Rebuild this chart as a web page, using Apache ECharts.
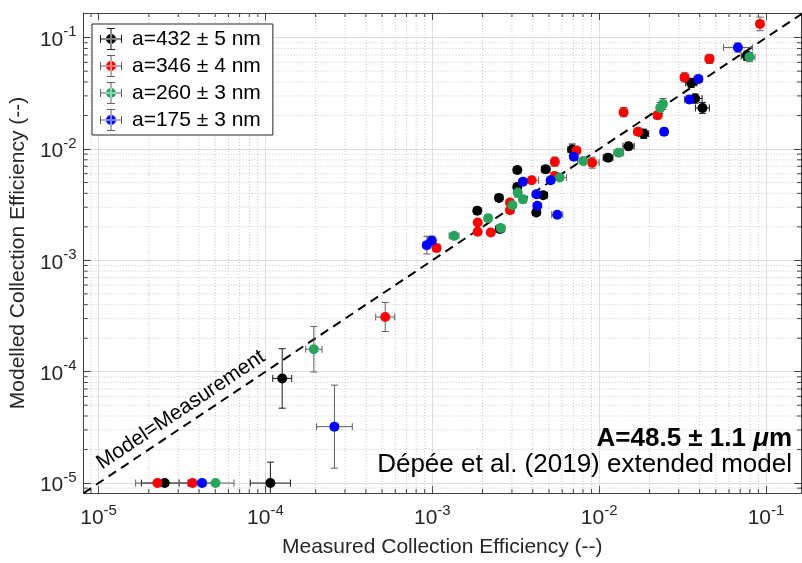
<!DOCTYPE html>
<html><head><meta charset="utf-8">
<script src="https://cdn.jsdelivr.net/npm/echarts@6/dist/echarts.min.js"></script>
<style>html,body{margin:0;padding:0;background:#fff}#c{width:802px;height:563px}</style>
</head><body><div id="c"></div>
<script>
// ---- data: [measured x, modelled y, x error factor, y error factor] ----
const seriesNames = ['a=432 ± 5 nm', 'a=346 ± 4 nm', 'a=260 ± 3 nm', 'a=175 ± 3 nm'];
const seriesColors = ['#000000', '#ff0000', '#27a35e', '#0000ff'];
const errColors = ['#1a1a1a', '#5f5f5f', '#5f5f5f', '#5f5f5f'];

const a432 = [
  [2.49e-5, 1.0e-5, 1.38, 1], [1.07e-4, 1.0e-5, 1.32, 1.54], [1.26e-4, 8.7e-5, 1.14, 1.85],
  [1.86e-3, 2.79e-3, 1.05, 1.07], [2.54e-3, 1.91e-3, 1.06, 1.06], [2.51e-3, 3.64e-3, 1.05, 1.06],
  [3.23e-3, 6.47e-3, 1.05, 1.07], [3.23e-3, 4.56e-3, 1.05, 1.08], [4.62e-3, 3.85e-3, 1.06, 1.06],
  [4.2e-3, 2.69e-3, 1.05, 1.06], [4.78e-3, 6.58e-3, 1.06, 1.08], [6.89e-3, 9.9e-3, 1.06, 1.12],
  [1.13e-2, 8.35e-3, 1.07, 1.08], [1.5e-2, 1.06e-2, 1.08, 1.08], [1.85e-2, 1.37e-2, 1.07, 1.1],
  [3.56e-2, 3.92e-2, 1.08, 1.1], [3.76e-2, 2.84e-2, 1.1, 1.1], [4.16e-2, 2.34e-2, 1.1, 1.12],
  [7.67e-2, 6.87e-2, 1.08, 1.1]
];
const a346 = [
  [2.25e-5, 1.0e-5, 1.35, 1], [3.65e-5, 1.0e-5, 1.2, 1], [5.22e-4, 3.1e-4, 1.14, 1.35],
  [1.06e-3, 1.29e-3, 1.05, 1.08], [1.87e-3, 2.19e-3, 1.04, 1.06], [1.87e-3, 1.81e-3, 1.04, 1.06],
  [2.24e-3, 1.78e-3, 1.05, 1.05], [2.92e-3, 3.31e-3, 1.05, 1.06], [2.92e-3, 2.82e-3, 1.05, 1.06],
  [3.94e-3, 5.24e-3, 1.1, 1.07], [5.42e-3, 7.7e-3, 1.05, 1.1], [5.42e-3, 5.73e-3, 1.05, 1.07],
  [7.31e-3, 9.7e-3, 1.05, 1.07], [9.08e-3, 7.54e-3, 1.1, 1.12], [1.4e-2, 2.14e-2, 1.05, 1.1],
  [1.71e-2, 1.43e-2, 1.06, 1.08], [2.24e-2, 2.01e-2, 1.06, 1.08], [3.25e-2, 4.4e-2, 1.06, 1.1],
  [4.58e-2, 6.45e-2, 1.06, 1.1], [9.2e-2, 0.133, 1.04, 1.15]
];
const a260 = [
  [5.02e-5, 1.0e-5, 1.29, 1], [1.95e-4, 1.59e-4, 1.12, 1.6], [1.35e-3, 1.66e-3, 1.07, 1.05],
  [2.16e-3, 2.39e-3, 1.05, 1.06], [2.57e-3, 1.95e-3, 1.06, 1.05], [3.02e-3, 3.13e-3, 1.05, 1.06],
  [3.25e-3, 4.06e-3, 1.04, 1.1], [3.49e-3, 3.54e-3, 1.05, 1.08], [5.8e-3, 5.54e-3, 1.1, 1.06],
  [8.02e-3, 7.8e-3, 1.08, 1.06], [1.31e-2, 9.27e-3, 1.07, 1.08], [2.32e-2, 2.34e-2, 1.05, 1.12],
  [2.41e-2, 2.54e-2, 1.05, 1.12], [7.95e-2, 6.69e-2, 1.08, 1.1]
];
const a175 = [
  [4.17e-5, 1.0e-5, 1.2, 1], [2.59e-4, 3.21e-5, 1.28, 2.36], [9.27e-4, 1.37e-3, 1.05, 1.2],
  [9.93e-4, 1.5e-3, 1.05, 1.1], [3.49e-3, 5.09e-3, 1.05, 1.05], [4.2e-3, 3.93e-3, 1.05, 1.06],
  [4.26e-3, 3.09e-3, 1.05, 1.05], [5.12e-3, 5.24e-3, 1.05, 1.05], [5.61e-3, 2.57e-3, 1.08, 1.05],
  [7.05e-3, 8.53e-3, 1.05, 1.06], [2.45e-2, 1.43e-2, 1.04, 1.08], [3.47e-2, 2.78e-2, 1.07, 1.08],
  [3.93e-2, 4.25e-2, 1.06, 1.08], [6.78e-2, 8.15e-2, 1.22, 1.1]
];
const groups = [a432, a346, a260, a175];

const xRange = [8.13e-6, 0.162];
const yRange = [8.14e-6, 0.1666];
const diagRange = [8.13e-6, 0.17];
const xTitle = 'Measured Collection Efficiency (--)';
const yTitle = 'Modelled Collection Efficiency (--)';
const diagLabel = 'Model=Measurement';
const fitLabel = ['A=48.5 ± 1.1 ', 'μ', 'm'];
const modelLabel = 'Dépée et al. (2019) extended model';

// ---- helpers ----
const FF = '"Liberation Sans", Arial, Helvetica, sans-serif';
const axisColor = '#404040';
const textColor = '#262626';

function minorValues(range) {
  const out = [];
  for (let e = -6; e <= 0; e++) {
    for (let m = 2; m <= 9; m++) {
      const v = m * Math.pow(10, e);
      if (v > range[0] && v < range[1]) out.push(v);
    }
  }
  return out;
}
const minorX = minorValues(xRange);
const minorY = minorValues(yRange);

function powLabel(v) {
  const e = Math.log10(v);
  const r = Math.round(e);
  if (Math.abs(e - r) > 1e-6) return '';
  return '{b|10}{s|' + r + '}';
}
const labelRich = {
  b: { fontSize: 21, fontFamily: FF, color: textColor, lineHeight: 26, verticalAlign: 'bottom' },
  s: { fontSize: 15, fontFamily: FF, color: textColor, lineHeight: 26, verticalAlign: 'top' }
};

function errRender(color) {
  return function (params, api) {
    const x = api.value(0), y = api.value(1), fx = api.value(2), fy = api.value(3);
    const c = api.coord([x, y]);
    const cap = 3.5;
    const st = { stroke: color, lineWidth: 1, fill: null };
    const ch = [];
    if (fx > 1) {
      const l = api.coord([x / fx, y])[0], r = api.coord([x * fx, y])[0];
      ch.push({ type: 'line', shape: { x1: l, y1: c[1], x2: r, y2: c[1] }, style: st });
      ch.push({ type: 'line', shape: { x1: l, y1: c[1] - cap, x2: l, y2: c[1] + cap }, style: st });
      ch.push({ type: 'line', shape: { x1: r, y1: c[1] - cap, x2: r, y2: c[1] + cap }, style: st });
    }
    if (fy > 1) {
      const t = api.coord([x, y * fy])[1], b = api.coord([x, y / fy])[1];
      ch.push({ type: 'line', shape: { x1: c[0], y1: t, x2: c[0], y2: b }, style: st });
      ch.push({ type: 'line', shape: { x1: c[0] - cap, y1: t, x2: c[0] + cap, y2: t }, style: st });
      ch.push({ type: 'line', shape: { x1: c[0] - cap, y1: b, x2: c[0] + cap, y2: b }, style: st });
    }
    return { type: 'group', children: ch };
  };
}

function minorXRender(params, api) {
  const px = api.coord([api.value(0), api.value(1)])[0];
  const cs = params.coordSys;
  const bot = cs.y + cs.height;
  return { type: 'group', children: [
    { type: 'line', shape: { x1: px, y1: cs.y, x2: px, y2: bot }, style: { stroke: '#c8c8c8', lineWidth: 1, lineDash: [1, 2] } },
    { type: 'line', shape: { x1: px, y1: bot, x2: px, y2: bot - 4 }, style: { stroke: axisColor, lineWidth: 1 } },
    { type: 'line', shape: { x1: px, y1: cs.y, x2: px, y2: cs.y + 4 }, style: { stroke: axisColor, lineWidth: 1 } }
  ]};
}
function minorYRender(params, api) {
  const py = api.coord([api.value(0), api.value(1)])[1];
  const cs = params.coordSys;
  const rgt = cs.x + cs.width;
  return { type: 'group', children: [
    { type: 'line', shape: { x1: cs.x, y1: py, x2: rgt, y2: py }, style: { stroke: '#c8c8c8', lineWidth: 1, lineDash: [1, 2] } },
    { type: 'line', shape: { x1: cs.x, y1: py, x2: cs.x + 4, y2: py }, style: { stroke: axisColor, lineWidth: 1 } },
    { type: 'line', shape: { x1: rgt, y1: py, x2: rgt - 4, y2: py }, style: { stroke: axisColor, lineWidth: 1 } }
  ]};
}

const legendIcon = 'path://M0 10.5h22v1H0z M0 7h1v8H0z M21 7h1v8h-1z M10.5 0h1v22h-1z M7 0h8v1H7z M7 21h8v1H7z M6 11a5 5 0 1 0 10 0a5 5 0 1 0 -10 0z';
function legendFill(c, e) {
  return { type: 'radial', x: 0.5, y: 0.5, r: 0.5, global: false, colorStops: [
    { offset: 0, color: c }, { offset: 0.47, color: c }, { offset: 0.47, color: e }, { offset: 1, color: e }] };
}

function mkAxis(pos, range, withLabels, name, nameGap) {
  return {
    type: 'log', logBase: 10, position: pos, min: range[0], max: range[1],
    axisLine: { show: true, onZero: false, lineStyle: { color: axisColor, width: 1 } },
    axisTick: { show: true, inside: true, length: 7, lineStyle: { color: axisColor } },
    minorTick: { show: false },
    axisLabel: withLabels ? { show: true, formatter: powLabel, rich: labelRich, margin: pos === 'bottom' ? 10 : 7, showMinLabel: false, showMaxLabel: false } : { show: false },
    splitLine: { show: withLabels, lineStyle: { color: '#dedede', width: 1 } },
    name: withLabels ? name : '',
    nameLocation: 'middle', nameGap: nameGap,
    nameTextStyle: { fontSize: 21, fontFamily: FF, color: textColor }
  };
}

const series = [
  { type: 'custom', name: 'minorX', renderItem: minorXRender, data: minorX.map(v => [v, yRange[0]]), encode: { x: 0, y: 1 }, z: 1, silent: true, clip: true },
  { type: 'custom', name: 'minorY', renderItem: minorYRender, data: minorY.map(v => [xRange[0], v]), encode: { x: 0, y: 1 }, z: 1, silent: true, clip: true },
  { type: 'line', name: 'diag', data: [[diagRange[0], diagRange[0]], [diagRange[1], diagRange[1]]], symbol: 'none',
    lineStyle: { color: '#000', width: 2, type: [9, 6] }, z: 2, silent: true, clip: true }
];
groups.forEach((g, i) => {
  series.push({ type: 'custom', name: 'err' + i, renderItem: errRender(errColors[i]), data: g,
    dimensions: ['x', 'y', 'fx', 'fy'], encode: { x: 0, y: 1 }, z: 3, silent: true, clip: true });
  series.push({ type: 'scatter', name: seriesNames[i], data: g.map(p => [p[0], p[1]]), symbol: 'circle', symbolSize: 10,
    itemStyle: { color: seriesColors[i], opacity: 1 }, z: 4, clip: true });
});

const chart = echarts.init(document.getElementById('c'), null, { renderer: 'canvas' });
chart.setOption({
  animation: false,
  backgroundColor: '#fff',
  textStyle: { fontFamily: FF },
  grid: { left: 82, right: 1, top: 13, bottom: 68, containLabel: false },
  xAxis: [mkAxis('bottom', xRange, true, xTitle, 44), mkAxis('top', xRange, false, '', 0)],
  yAxis: [mkAxis('left', yRange, true, yTitle, 50), mkAxis('right', yRange, false, '', 0)],
  legend: {
    orient: 'vertical', left: 92, top: 24, padding: [4, 12, 4, 8],
    itemWidth: 32, itemHeight: 22, itemGap: 5,
    borderColor: '#262626', borderWidth: 1, backgroundColor: '#fff',
    textStyle: { fontSize: 21, fontFamily: FF, color: '#000' },
    data: seriesNames.map((n, i) => ({ name: n, icon: legendIcon, itemStyle: { color: legendFill(seriesColors[i], errColors[i]) } }))
  },
  graphic: [
    { type: 'text', x: 792, y: 439, z: 10, style: {
      text: '{b|' + fitLabel[0] + '}{i|' + fitLabel[1] + '}{b|' + fitLabel[2] + '}',
      rich: { b: { fontSize: 26, fontWeight: 'bold', fontFamily: FF, fill: '#000' },
              i: { fontSize: 26, fontWeight: 'bold', fontStyle: 'italic', fontFamily: FF, fill: '#000' } },
      align: 'right', verticalAlign: 'middle' } },
    { type: 'text', x: 792, y: 465, z: 10, style: { text: modelLabel, fontSize: 26, fontFamily: FF, fill: '#000', align: 'right', verticalAlign: 'middle' } },
    { type: 'text', x: 181, y: 410, z: 10, rotation: 33.8 * Math.PI / 180, style: { text: diagLabel, fontSize: 21, fontFamily: FF, fill: '#000', align: 'center', verticalAlign: 'middle' } }
  ],
  series: series
});
</script></body></html>
